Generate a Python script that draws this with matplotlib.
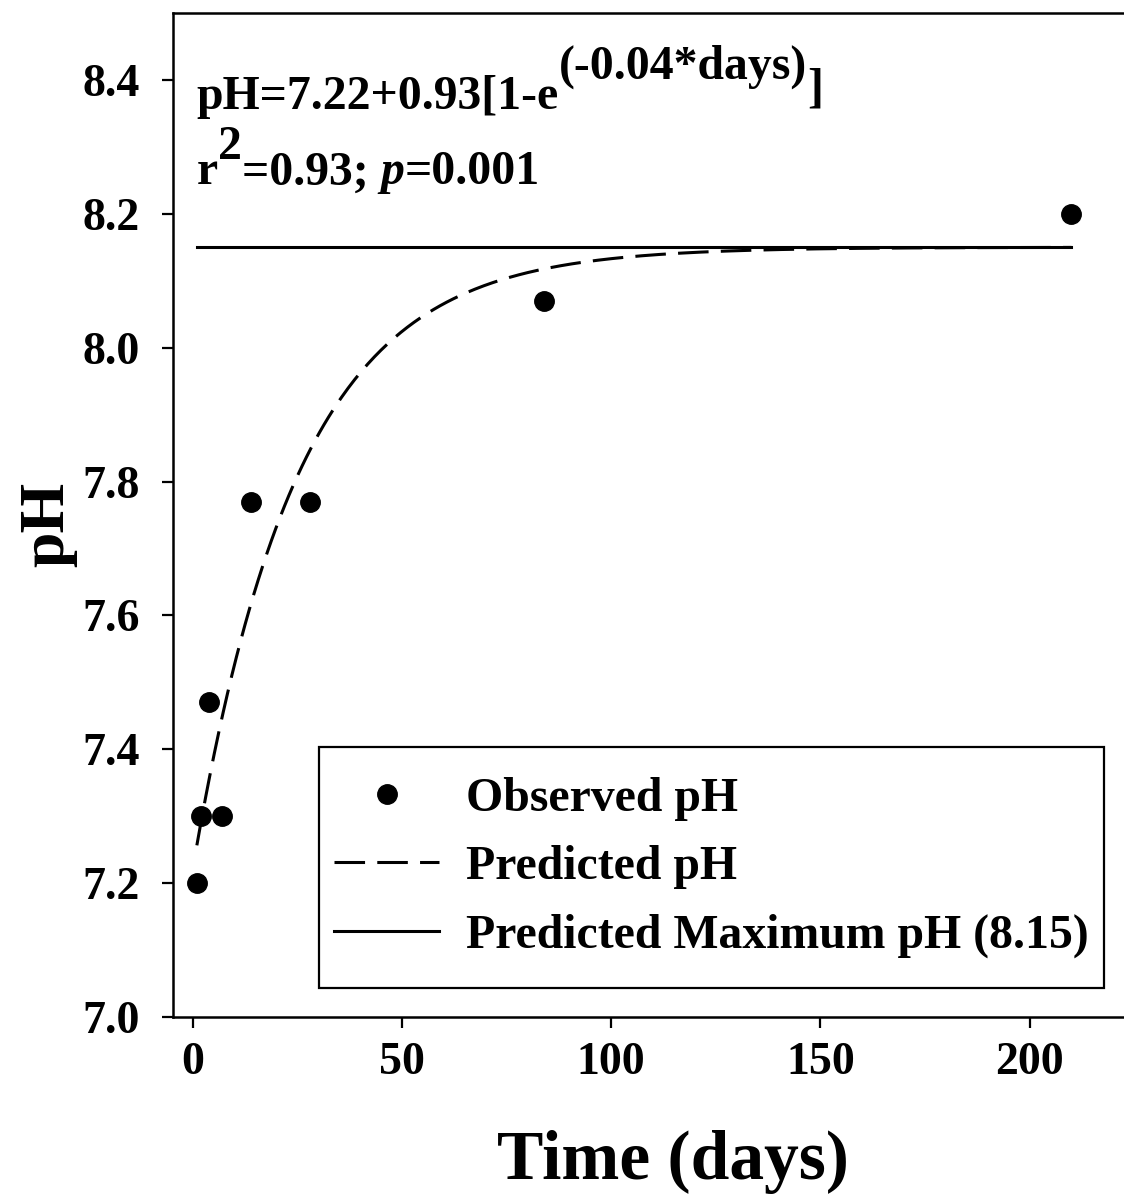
# pH over time with exponential rise to maximum fit
import numpy as np
import matplotlib.pyplot as plt

plt.rcParams['font.family'] = ['Liberation Serif', 'DejaVu Serif']
plt.rcParams['font.weight'] = 'bold'

days = [1, 2, 4, 7, 14, 28, 84, 210]
ph_obs = [7.20, 7.30, 7.47, 7.30, 7.77, 7.77, 8.07, 8.20]

# fit: pH = y0 + a*(1 - exp(-b*days))
y0 = 7.22
a = 0.93
b = 0.04
ph_max = 8.15

xticks = [0, 50, 100, 150, 200]
yticks = [7.0, 7.2, 7.4, 7.6, 7.8, 8.0, 8.2, 8.4]

t = np.linspace(1, 210, 400)
ph_fit = y0 + a * (1 - np.exp(-b * t))

fig = plt.figure(figsize=(11.24, 12.01), dpi=100)
ax = fig.add_axes([173/1124, 184/1201, 960/1124, 1004/1201])

ax.plot(days, ph_obs, 'o', color='black', ms=14, label='Observed pH', zorder=3)
ax.plot(t, ph_fit, color='black', lw=2.2, dashes=(10, 4), label='Predicted pH')
ax.plot([1, 210], [ph_max, ph_max], color='black', lw=2.2,
        label='Predicted Maximum pH (%.2f)' % ph_max)

ax.set_xlim(-4.7, 224.7)
ax.set_ylim(7.0, 8.5)
ax.set_xticks(xticks)
ax.set_yticks(yticks)
ax.set_yticklabels(['%.1f' % v for v in yticks])
ax.tick_params(direction='out', length=8, width=1.6, labelsize=33)
ax.tick_params(axis='x', pad=10)
ax.tick_params(axis='y', pad=16)
for s in ax.spines.values():
    s.set_linewidth(1.8)

ax.set_xlabel('Time (days)', fontsize=50, fontweight='bold', va='center')
ax.set_ylabel('pH', fontsize=46, fontweight='bold', va='center')
ax.xaxis.set_label_coords(0.521, -0.144)
ax.yaxis.set_label_coords(-0.130, 0.491)

# fitted equation, superscripts placed after the base text
fs = 34.4
base1 = 8.357
base2 = 8.244
t1 = ax.text(1, base1, 'pH=7.22+0.93[1-e', fontsize=fs, fontweight='bold', va='baseline')
t2 = ax.annotate('(-0.04*days)', xy=(1, base1), xycoords=(t1, 'data'),
                 xytext=(0, 22), textcoords='offset points',
                 fontsize=fs, fontweight='bold', va='baseline')
ax.annotate(']', xy=(1, base1), xycoords=(t2, 'data'),
            xytext=(0, 5), textcoords='offset points',
            fontsize=fs, fontweight='bold', va='baseline')

t4 = ax.text(1, base2, 'r', fontsize=fs, fontweight='bold', va='baseline')
t5 = ax.annotate('2', xy=(1, base2), xycoords=(t4, 'data'),
                 xytext=(0, 18), textcoords='offset points',
                 fontsize=fs, fontweight='bold', va='baseline')
t6 = ax.annotate('=0.93; ', xy=(1, base2), xycoords=(t5, 'data'),
                 fontsize=fs, fontweight='bold', va='baseline')
t7 = ax.annotate('p', xy=(1, base2), xycoords=(t6, 'data'),
                 fontsize=fs, fontweight='bold', style='italic', va='baseline')
ax.annotate('=0.001', xy=(1, base2), xycoords=(t7, 'data'),
            fontsize=fs, fontweight='bold', va='baseline')

leg = ax.legend(loc='lower right', bbox_to_anchor=(0.954, 0.0588), borderaxespad=0,
                fontsize=fs, frameon=True, fancybox=False, framealpha=1,
                edgecolor='black', handlelength=2.2, handletextpad=0.56,
                labelspacing=0.51, borderpad=0, numpoints=1)
# wider padding above/below the entries than at the sides
frame = leg.get_frame()
frame.set_linewidth(1.6)
frame.set_boxstyle('square', pad=0.31)
frame.set_mutation_aspect(2.0)

fig.savefig('out.png', dpi=100)
